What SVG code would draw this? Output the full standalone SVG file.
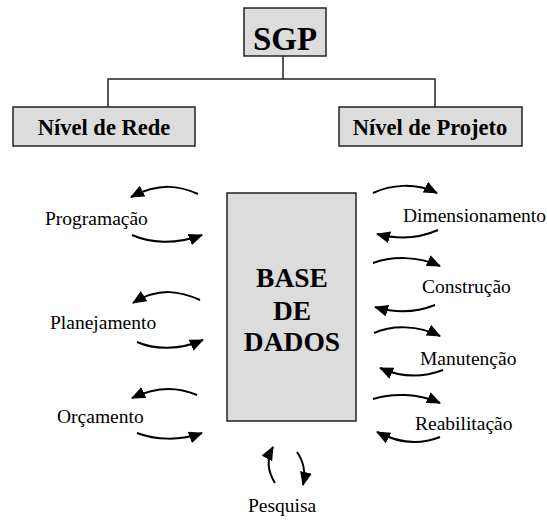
<svg xmlns="http://www.w3.org/2000/svg" width="547" height="520" viewBox="0 0 547 520">
<style>
.box{fill:#dcdcdc;stroke:#222;stroke-width:1.5}
.hdr{font-family:"Liberation Serif",serif;font-weight:bold;fill:#000;text-anchor:middle}
.lbl{font-family:"Liberation Serif",serif;font-size:19.5px;fill:#000}
.tree{fill:none;stroke:#222;stroke-width:1.5}
.arr{fill:none;stroke:#000;stroke-width:2;marker-end:url(#ah)}
</style>
<defs>
<marker id="ah" markerUnits="userSpaceOnUse" markerWidth="14" markerHeight="12" refX="13" refY="6" orient="auto">
<path d="M0,0 L14,6 L0,12 z" fill="#000"/>
</marker>
</defs>
<rect width="547" height="520" fill="#fff"/>
<g id="connectors">
<path class="tree" d="M283,56 V79 M108,107 V79 H435 V107"/>
<path class="arr" d="M198,194 C180,186 160,182 131,197"/>
<path class="arr" d="M132,235 C150,243 175,245 202,235"/>
<path class="arr" d="M200,300 C182,292 160,286 133,303"/>
<path class="arr" d="M137,342 C155,350 180,350 203,340"/>
<path class="arr" d="M197,395 C180,388 160,385 132,398"/>
<path class="arr" d="M137,433 C155,440 180,441 202,433"/>
<path class="arr" d="M373,193 C390,185 415,182 437,193"/>
<path class="arr" d="M438,230 C420,238 400,240 377,234"/>
<path class="arr" d="M373,263 C392,256 418,256 440,266"/>
<path class="arr" d="M435,305 C415,313 395,313 375,307"/>
<path class="arr" d="M374,333 C392,325 418,325 440,336"/>
<path class="arr" d="M443,370 C422,378 400,377 380,368"/>
<path class="arr" d="M373,399 C392,393 418,393 440,403"/>
<path class="arr" d="M440,437 C420,445 400,444 377,432"/>
<path class="arr" d="M275,483 C268,472 266,460 273,447"/>
<path class="arr" d="M297,452 C304,462 306,472 303,485"/>
</g>
<g id="sgp">
<rect class="box" x="244" y="8" width="82" height="48"/>
<text class="hdr" x="285" y="50" font-size="33">SGP</text>
</g>
<g id="nivel-rede">
<rect class="box" x="13" y="107" width="182" height="39"/>
<text class="hdr" x="104" y="135" font-size="22.5">Nível de Rede</text>
</g>
<g id="nivel-projeto">
<rect class="box" x="339" y="107" width="183" height="39"/>
<text class="hdr" x="430" y="135" font-size="22.5">Nível de Projeto</text>
</g>
<g id="base-dados">
<rect class="box" x="227" y="193" width="129" height="228"/>
<text class="hdr" x="292" y="287" font-size="27.5">BASE</text>
<text class="hdr" x="292" y="320" font-size="27.5">DE</text>
<text class="hdr" x="292" y="351" font-size="27.5">DADOS</text>
</g>
<g id="programacao"><text class="lbl" x="45" y="225">Programação</text></g>
<g id="planejamento"><text class="lbl" x="50" y="329">Planejamento</text></g>
<g id="orcamento"><text class="lbl" x="57" y="423">Orçamento</text></g>
<g id="dimensionamento"><text class="lbl" x="403" y="222">Dimensionamento</text></g>
<g id="construcao"><text class="lbl" x="422" y="293">Construção</text></g>
<g id="manutencao"><text class="lbl" x="420" y="365">Manutenção</text></g>
<g id="reabilitacao"><text class="lbl" x="415" y="430">Reabilitação</text></g>
<g id="pesquisa"><text class="lbl" x="248" y="512">Pesquisa</text></g>
</svg>
